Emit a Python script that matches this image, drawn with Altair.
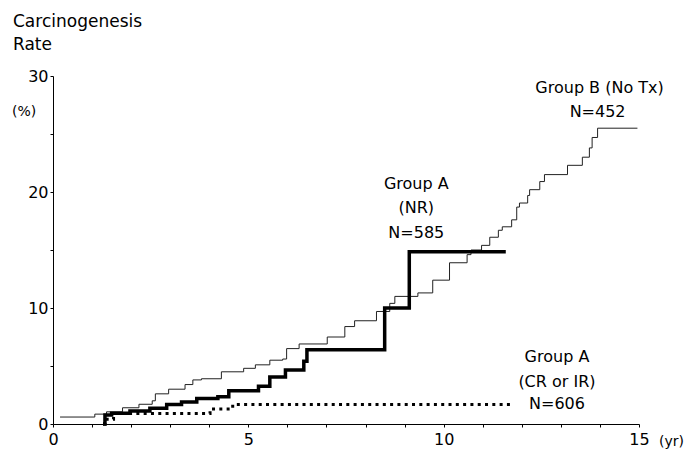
import altair as alt
import pandas as pd

# Group B (No Tx) - thin line
tB = [0.18, 1.07, 1.37, 1.78, 2.2, 2.54, 2.62, 2.96, 3.38, 3.58, 3.8, 4.31, 4.88, 5.18, 5.55,
      5.88, 5.98, 6.3, 7.02, 7.47, 7.72, 8.28, 8.62, 8.75, 9.34, 9.72, 10.15, 10.6, 10.7, 10.97,
      11.18, 11.4, 11.5, 11.74, 11.87, 11.94, 12.15, 12.2, 12.46, 12.58, 13.17, 13.55, 13.73,
      13.8, 13.94, 14.96]
rB = [0.6, 0.85, 1.05, 1.4, 1.7, 2.0, 2.6, 3.0, 3.4, 3.8, 3.9, 4.5, 4.8, 5.1, 5.5,
      5.6, 6.5, 6.9, 7.5, 8.4, 8.9, 9.7, 10.4, 11.0, 11.3, 12.4, 13.9, 14.6, 15.0, 15.4,
      16.1, 16.7, 17.0, 17.6, 18.7, 19.05, 19.7, 20.2, 20.9, 21.5, 22.3, 23.0, 23.8,
      24.7, 25.5, 25.5]

# Group A (NR) - thick line
tA = [1.28, 1.33, 1.5, 1.97, 2.48, 2.91, 3.29, 3.68, 4.22, 4.5, 5.26, 5.55, 5.95, 6.42, 6.5,
      8.49, 9.12, 11.59]
rA = [0.0, 0.78, 0.92, 1.12, 1.35, 1.68, 1.9, 2.2, 2.35, 2.87, 3.25, 4.05, 4.65, 5.4, 6.4,
      10.0, 14.85, 14.85]

# Group A (CR or IR) - dotted line
tC = [1.28, 1.33, 1.55, 4.02, 4.6, 11.8]
rC = [0.0, 0.4, 0.9, 1.3, 1.68, 1.68]

# annotations (data units)
ann_text = ["Group B (No Tx)", "N=452", "Group A", "(NR)", "N=585",
            "Group A", "(CR or IR)", "N=606"]
ann_t = [13.99, 13.94, 9.3, 9.3, 9.3, 12.9, 12.9, 12.9]
ann_r = [28.97, 26.9, 20.7, 18.6, 16.5, 5.78, 3.62, 1.72]

FONT = "DejaVu Sans"

dfB = pd.DataFrame({"t": tB, "r": rB})
dfA = pd.DataFrame({"t": tA, "r": rA})
dfC = pd.DataFrame({"t": tC, "r": rC})
dfT = pd.DataFrame({"text": ann_text, "t": ann_t, "r": ann_r})

xs = alt.Scale(domain=[0, 15], nice=False)
ys = alt.Scale(domain=[0, 30], nice=False)

xax = alt.Axis(values=list(range(0, 16)), labelExpr="datum.value % 5 == 0 ? datum.label : ''",
               title=None, grid=False, tickSize=3, labelFontSize=16, labelFont=FONT,
               labelColor="black", domainColor="black", tickColor="black", labelPadding=4,
               labelOverlap=False, labelBound=False, labelFlush=False)
yax = alt.Axis(values=list(range(0, 31, 5)), labelExpr="datum.value % 10 == 0 ? datum.label : ''",
               title=None, grid=False, tickSize=3, labelFontSize=16, labelFont=FONT,
               labelColor="black", domainColor="black", tickColor="black", labelPadding=2,
               labelOverlap=False, labelBound=False, labelFlush=False)


def X():
    return alt.X("t:Q", scale=xs, axis=xax)


def Y():
    return alt.Y("r:Q", scale=ys, axis=yax)


lineB = alt.Chart(dfB).mark_line(interpolate="step-after", color="#222222", strokeWidth=1).encode(
    x=X(), y=Y())
lineA = alt.Chart(dfA).mark_line(interpolate="step-after", color="black", strokeWidth=3.5).encode(
    x=X(), y=Y())
lineC = alt.Chart(dfC).mark_line(interpolate="step-after", color="black", strokeWidth=3,
                                 strokeDash=[3, 4.3]).encode(x=X(), y=Y())

ann = alt.Chart(dfT).mark_text(font=FONT, fontSize=16, color="black", align="center",
                               baseline="middle").encode(x=X(), y=Y(), text="text:N")

titles = pd.DataFrame({"text": ["Carcinogenesis", "Rate", "(%)", "(yr)"]})
t1 = alt.Chart(titles.iloc[[0]]).mark_text(font=FONT, fontSize=17, align="left", baseline="middle",
                                           color="black").encode(
    x=alt.value(-40), y=alt.value(-54), text="text:N")
t2 = alt.Chart(titles.iloc[[1]]).mark_text(font=FONT, fontSize=17, align="left", baseline="middle",
                                           color="black").encode(
    x=alt.value(-40), y=alt.value(-31), text="text:N")
t3 = alt.Chart(titles.iloc[[2]]).mark_text(font=FONT, fontSize=14, align="left", baseline="middle",
                                           color="black").encode(
    x=alt.value(-41), y=alt.value(36), text="text:N")
t4 = alt.Chart(titles.iloc[[3]]).mark_text(font=FONT, fontSize=14, align="left", baseline="middle",
                                           color="black").encode(
    x=alt.value(606), y=alt.value(366), text="text:N")

chart = alt.layer(lineB, lineA, lineC, ann, t1, t2, t3, t4).properties(
    width=586, height=348,
    padding={"left": 53, "top": 76, "right": 58, "bottom": 36},
    autosize="none",
    background="white",
).configure_view(stroke=None).configure_axis(labelOverlap=False)

chart.save("out.html", embed_options={"renderer": "svg", "actions": False})
